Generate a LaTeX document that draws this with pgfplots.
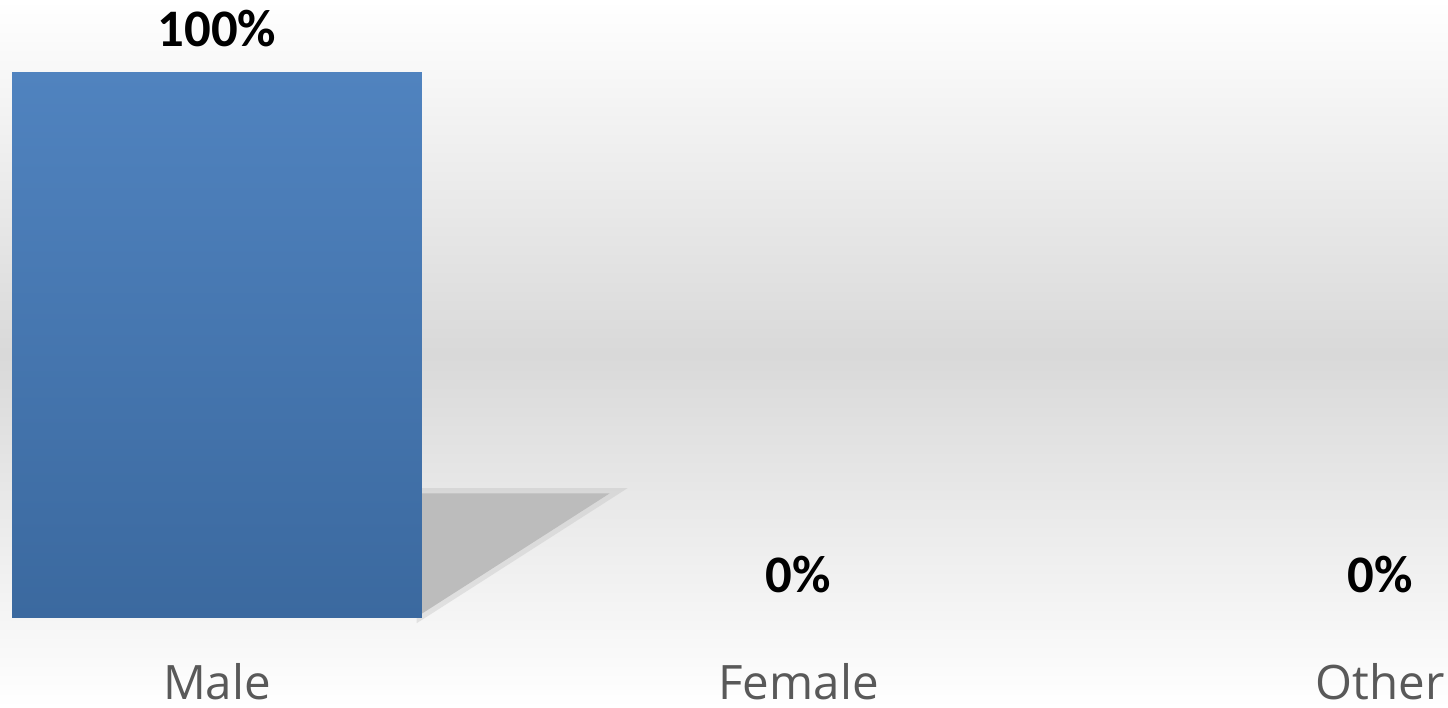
\documentclass[border=0pt]{standalone}
\usepackage{pgfplots}
\pgfplotsset{compat=1.18}
\usepackage{fontspec}
\setmainfont{Carlito}
\newfontfamily\catfont{Open Sans}
\definecolor{bartop}{HTML}{5083BF}
\definecolor{barbot}{HTML}{3B699F}
\definecolor{shadowc}{HTML}{BCBCBC}
\definecolor{labgray}{HTML}{595959}
\begin{document}
\begin{tikzpicture}
\begin{axis}[
  scale only axis,
  width=14.48cm, height=7.08cm,
  xmin=-0.3732, xmax=2.1169,
  ymin=-16.5, ymax=113.2,
  axis line style={draw=none},
  axis background/.style={top color=white, bottom color=white, middle color=black!15},
  xtick={0,1,2},
  xticklabels={Male,Female,Other},
  ytick=\empty,
  major tick length=0pt,
  xticklabel style={font=\catfont\fontsize{13.5}{14}\selectfont, text=labgray, anchor=base, yshift=0.8mm, inner sep=0pt},
]
% floor shadow of the bar
\addplot[fill=shadowc, draw=shadowc, line width=3pt, draw opacity=0.35, forget plot]
  coordinates {(0.3525,0.8) (0.3525,22.8) (0.675,22.8)} -- cycle;
% bars (zero-height bars are not drawn)
\addplot[ybar, bar width=0.705, bar shift=0pt, draw=none,
  top color=bartop, bottom color=barbot,
  restrict y to domain=0.01:1000, forget plot]
  coordinates {(0,100) (1,0) (2,0)};
% value labels
\addplot[draw=none, mark=none, point meta=y,
  nodes near coords={\pgfmathprintnumber[assume math mode=true]{\pgfplotspointmeta}\%},
  every node near coord/.append style={font=\bfseries\fontsize{15}{16}\selectfont, text=black, anchor=south, inner sep=0pt, yshift=2.4mm}]
  coordinates {(0,100) (1,0) (2,0)};
\end{axis}
\pgfresetboundingbox
\useasboundingbox (0,0) rectangle (14.48cm,7.08cm);
\end{tikzpicture}
\end{document}
